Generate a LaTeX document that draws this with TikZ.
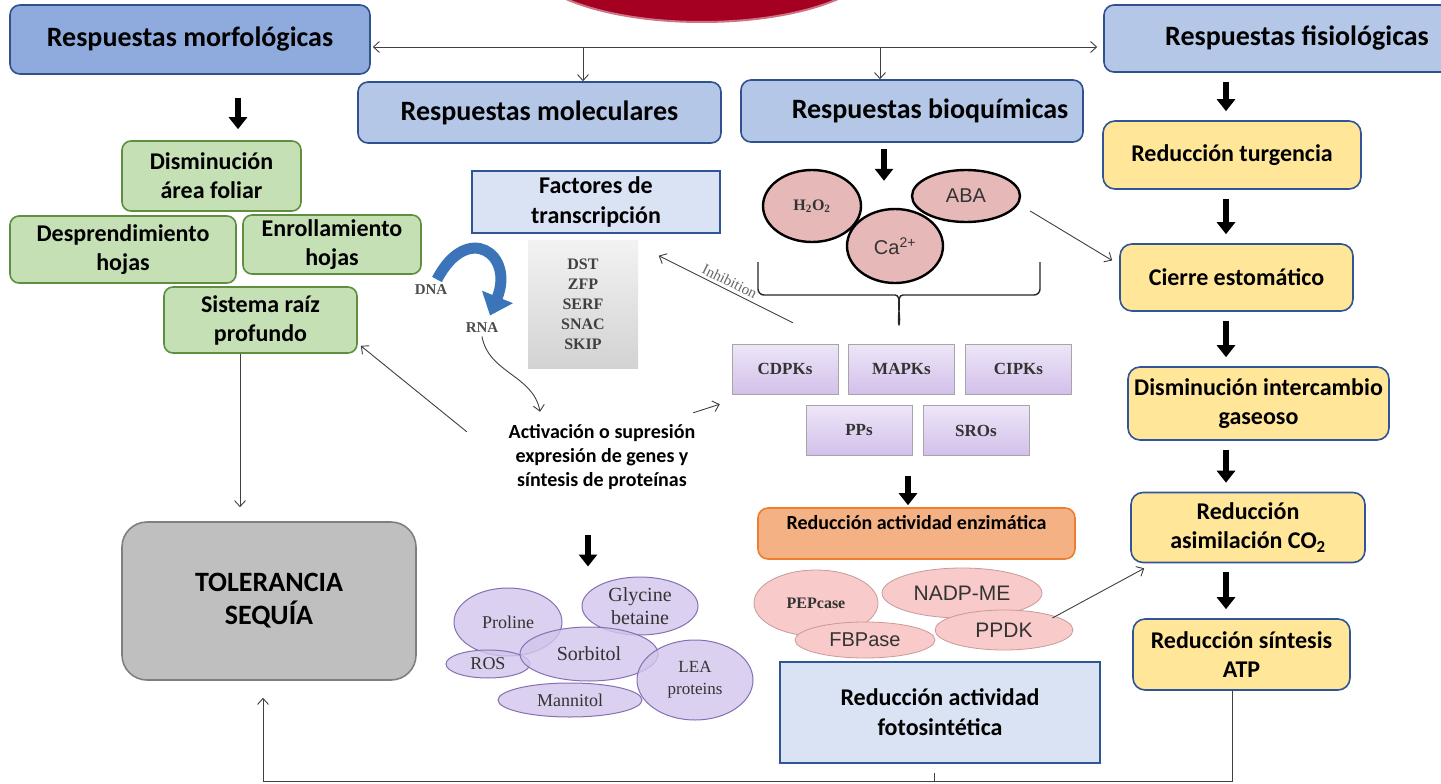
\documentclass[tikz,border=0pt]{standalone}
\usepackage{fontspec}
\setmainfont{Carlito}
\newfontfamily\timesf{Liberation Serif}
\newfontfamily\arialf{Liberation Sans}
\usetikzlibrary{arrows.meta,shapes.geometric}

\definecolor{stressred}{HTML}{A50021}
\definecolor{hdrdark}{HTML}{8FAADC}
\definecolor{hdrlight}{HTML}{B4C7E7}
\definecolor{hdrborder}{HTML}{2F528F}
\definecolor{grnfill}{HTML}{C5E0B4}
\definecolor{grnborder}{HTML}{5E8E3E}
\definecolor{ylwfill}{HTML}{FFE699}
\definecolor{ylwborder}{HTML}{2F5597}
\definecolor{orgfill}{HTML}{F4B183}
\definecolor{orgborder}{HTML}{ED7D31}
\definecolor{tolfill}{HTML}{BFBFBF}
\definecolor{tolborder}{HTML}{7F7F7F}
\definecolor{lblue}{HTML}{DAE3F3}
\definecolor{sigfill}{HTML}{E6B9B8}
\definecolor{enzfill}{HTML}{F9CACA}
\definecolor{enzborder}{HTML}{C99A9A}
\definecolor{osmofill}{HTML}{D3C5EC}
\definecolor{osmoborder}{HTML}{8570B0}
\definecolor{kintop}{HTML}{EEE6F8}
\definecolor{kinbot}{HTML}{D2C0EA}
\definecolor{dnablue}{HTML}{3B74B9}

\newcommand{\fsz}[2]{\fontsize{#1}{#2}\selectfont}

\tikzset{
  >={Straight Barb[length=6pt,width=11pt]},
  hdr/.style={draw=hdrborder, line width=1.6pt, rounded corners=10pt, fill=hdrlight, font=\bfseries\fsz{28}{34}},
  grn/.style={draw=grnborder, line width=1.6pt, rounded corners=9pt, fill=grnfill, align=center, inner sep=1pt, font=\bfseries\fsz{24}{29}},
  ylw/.style={draw=ylwborder, line width=1.6pt, rounded corners=12pt, fill=ylwfill, align=center, inner sep=1pt, font=\bfseries\fsz{24}{29}},
  lbox/.style={draw=ylwborder, line width=1.4pt, fill=lblue, align=center, font=\bfseries\fsz{24}{30}},
  kin/.style={draw=gray!70, top color=kintop, bottom color=kinbot, minimum width=106pt, minimum height=50pt, font=\timesf\bfseries\fsz{17}{20}, text=black!80},
  sig/.style={ellipse, draw=black, line width=2.4pt, fill=sigfill, inner sep=0pt, text=black!80},
  enzy/.style={ellipse, draw=enzborder, fill=enzfill, line width=0.8pt, inner sep=0pt, text=black!80},
  osmo/.style={ellipse, draw=osmoborder, fill=osmofill, fill opacity=0.8, text opacity=1, line width=1pt, inner sep=0pt, align=center, text=black!80, font=\timesf\fsz{18}{20}},
  conn/.style={draw=black!75, line width=0.9pt},
  bigarr/.style={line width=6pt, -{Triangle[length=12pt,width=18pt]}},
}

\begin{document}
\begin{tikzpicture}[x=1pt, y=-1pt]
\clip (0,0) rectangle (1441,784);
\fill[white] (0,0) rectangle (1441,784);

\node[ellipse, fill=stressred, draw=stressred!55!white, line width=2pt, minimum width=350pt, minimum height=124pt] (estres) at (702,-40) {};

\node[hdr, fill=hdrdark, minimum width=360pt, minimum height=69pt] (morf) at (190,39.5) {Respuestas morfológicas};
\node[hdr, minimum width=386pt, minimum height=67pt] (fisio) at (1297,38.5) {Respuestas fisiológicas};
\node[hdr, minimum width=363pt, minimum height=61pt] (mol) at (539.5,112.5) {Respuestas moleculares};
\node[hdr, minimum width=342pt, minimum height=62pt] (bioq) at (912,111) {\hspace*{36pt}Respuestas bioquímicas};

\coordinate (hub) at (702,47);
\coordinate (cM) at (583,0);
\coordinate (cQ) at (880,0);
\draw[conn, <->, shorten <=2pt, shorten >=6pt] (hub -| morf.east) -- (hub -| fisio.west);
\draw[conn, ->] (hub -| cM) -- (cM |- mol.north);
\draw[conn, ->] (hub -| cQ) -- (cQ |- bioq.north);

% morfologicas
\node[grn, minimum width=179pt, minimum height=70pt] (dism) at (211.5,176) {Disminución\\área foliar};
\node[grn, minimum width=226pt, minimum height=67pt] (desp) at (123,249.5) {Desprendimiento\\hojas};
\node[grn, minimum width=178pt, minimum height=59pt] (enro) at (332,244.5) {Enrollamiento\\hojas};
\node[grn, minimum width=193pt, minimum height=66pt] (raiz) at (260.5,320) {Sistema raíz\\profundo};
\node[draw=tolborder, line width=1.6pt, fill=tolfill, rounded corners=25pt, minimum width=294pt, minimum height=158pt, align=center, font=\bfseries\fsz{28}{33}] (tol) at (269,601) {TOLERANCIA\\SEQUÍA};

% fisiologicas
\node[ylw, minimum width=258pt, minimum height=68pt] (turg) at (1232,155) {Reducción turgencia};
\node[ylw, minimum width=233pt, minimum height=67pt] (cierre) at (1236.5,277.5) {Cierre estomático};
\node[ylw, minimum width=261pt, minimum height=73pt] (disint) at (1258.5,403.5) {Disminución intercambio\\gaseoso};
\node[ylw, minimum width=234pt, minimum height=70pt] (asim) at (1248,527.5) {Reducción\\asimilación CO\textsubscript{2}};
\node[ylw, minimum width=217pt, minimum height=71pt] (atp) at (1241.5,654.5) {Reducción síntesis\\ATP};

% moleculares
\node[font=\timesf\bfseries\fsz{15}{18}, text=black!70] (dna) at (431,290) {DNA};
\node[font=\timesf\bfseries\fsz{15}{18}, text=black!70] (rna) at (482,328) {RNA};
\draw[line width=11pt, draw=dnablue, -{Triangle[length=20pt,width=32pt]}] ([xshift=6pt,yshift=2pt]dna.north) .. controls +(30pt,58pt) and +(25pt,62pt) .. ([xshift=8pt,yshift=4pt]rna.north);
\node[lbox, minimum width=248pt, minimum height=62pt] (fac) at (596,202) {Factores de\\transcripción};
\node[top color=gray!10, bottom color=gray!35, minimum width=110pt, minimum height=128pt, align=center, text=black!75, font=\timesf\bfseries\fsz{16}{20}] (tf) at (583,304) {DST\\ZFP\\SERF\\SNAC\\SKIP};
\node[fill=white, minimum width=240pt, minimum height=85pt, align=center, font=\bfseries\fsz{20}{24}] (act) at (602,457.5) {Activación o supresión\\expresión de genes y\\síntesis de proteínas};

\node[osmo, minimum width=108pt, minimum height=68pt] (prol) at (508,622) {Proline};
\node[osmo, minimum width=116pt, minimum height=58pt, font=\timesf\fsz{20}{23}] (glyc) at (640,606) {Glycine\\betaine};
\node[osmo, minimum width=84pt, minimum height=28pt] (ros) at (488,664) {ROS};
\node[osmo, minimum width=138pt, minimum height=54pt, font=\timesf\fsz{20}{23}] (sorb) at (589,654) {Sorbitol};
\node[osmo, minimum width=116pt, minimum height=80pt, font=\timesf\fsz{17}{22}] (lea) at (695,680) {LEA\\proteins};
\node[osmo, minimum width=144pt, minimum height=34pt] (mann) at (570,700) {Mannitol};

% bioquimicas
\node[sig, minimum width=108pt, minimum height=52pt, font=\arialf\fsz{20}{24}] (aba) at (966,196) {ABA};
\node[sig, minimum width=98pt, minimum height=72pt, font=\timesf\bfseries\fsz{16}{18}] (h2o2) at (812,206) {H\textsubscript{2}O\textsubscript{2}};
\node[sig, minimum width=96pt, minimum height=74pt, font=\arialf\fsz{20}{24}] (ca) at (895,246) {Ca\textsuperscript{2+}};
\draw[draw=black!85, line width=1.4pt, rounded corners=6pt] (758,262) -- (758,295) -- (889,295) to[out=0,in=95] (899,328) to[out=85,in=180] (909,295) -- (1040,295) -- (1040,262);

\node[kin] (cdpk) at (785,369) {CDPKs};
\node[kin] (mapk) at (901.5,369) {MAPKs};
\node[kin] (cipk) at (1018.5,369) {CIPKs};
\node[kin] (pps) at (859,430.5) {PPs};
\node[kin] (sros) at (976,430.5) {SROs};

\node[draw=orgborder, line width=1.6pt, fill=orgfill, rounded corners=10pt, minimum width=317pt, minimum height=51pt, align=center, font=\bfseries\fsz{20}{22}] (enz) at (916.5,533.5) {Reducción actividad enzimática\\\mbox{}};

\node[enzy, minimum width=124pt, minimum height=66pt, font=\timesf\bfseries\fsz{16}{18}] (pep) at (816,603) {PEPcase};
\node[enzy, minimum width=160pt, minimum height=50pt, font=\arialf\fsz{21}{24}] (nadp) at (962,593) {NADP-ME};
\node[enzy, minimum width=140pt, minimum height=36pt, font=\arialf\fsz{20}{24}] (fbp) at (865,640) {FBPase};
\node[enzy, minimum width=138pt, minimum height=40pt, font=\arialf\fsz{21}{24}] (ppdk) at (1004,630) {PPDK};

\node[lbox, minimum width=320pt, minimum height=101pt] (foto) at (940,712.5) {Reducción actividad\\fotosintética};

% conectores
\coordinate (cL) at (238,0);
\coordinate (cT) at (240,0);
\coordinate (cR) at (1226,0);
\coordinate (cB) at (884,0);
\coordinate (cK) at (908,0);
\coordinate (cA) at (588,0);
\coordinate (bR) at (1232,781);
\coordinate (bL) at (263,781);
\coordinate (tk) at (934,781);

\draw[bigarr, shorten <=23pt, shorten >=11pt] (cL |- morf.south) -- (cL |- dism.north);
\foreach \a/\b in {fisio/turg, turg/cierre, cierre/disint, disint/asim, asim/atp}
  \draw[bigarr, shorten <=9pt, shorten >=9pt] (cR |- \a.south) -- (cR |- \b.north);
\draw[bigarr, shorten <=6pt, shorten >=27pt] (cB |- bioq.south) -- (cB |- ca.north);
\draw[bigarr, shorten <=20pt, shorten >=2pt] (cK |- pps.south) -- (cK |- enz.north);
\draw[bigarr, shorten <=35pt, shorten >=60pt] (cA |- act.south) -- (cA |- sorb.north);

\draw[conn, ->] (cT |- raiz.south) -- ([yshift=14pt]cT |- tol.north);
\draw[conn, ->] ([xshift=-15pt,yshift=-17pt]act.north west) -- ([xshift=3pt,yshift=8pt]raiz.south east);
\draw[conn, ->] (rna.south) to[out=-80,in=100] ([xshift=-62pt,yshift=3pt]act.north);
\draw[conn, ->] ([xshift=-29pt,yshift=2pt]act.north east) -- ([xshift=-12pt,yshift=-10pt]cdpk.south west);
\draw[conn, ->] ([xshift=8pt,yshift=21pt]cdpk.north) -- node[sloped, above=3pt, inner sep=0pt, font=\timesf\fsz{15}{18}, text=black!60] {Inhibition} ([xshift=-62pt,yshift=-22pt]fac.south east);
\draw[conn, ->] ([xshift=9pt,yshift=-15pt]aba.east) -- ([xshift=-7pt,yshift=17pt]cierre.west);
\draw[conn, ->] ([xshift=-21pt,yshift=12pt]ppdk.east) -- ([xshift=14pt,yshift=-5pt]asim.south west);

\draw[conn, ->, shorten >=17pt] (atp.south -| bR) -- (bR) -- (bL) -- (tol.south -| bL);
\draw[conn] ([yshift=-9pt]tk |- foto.south) -- (tk);
\end{tikzpicture}
\end{document}
